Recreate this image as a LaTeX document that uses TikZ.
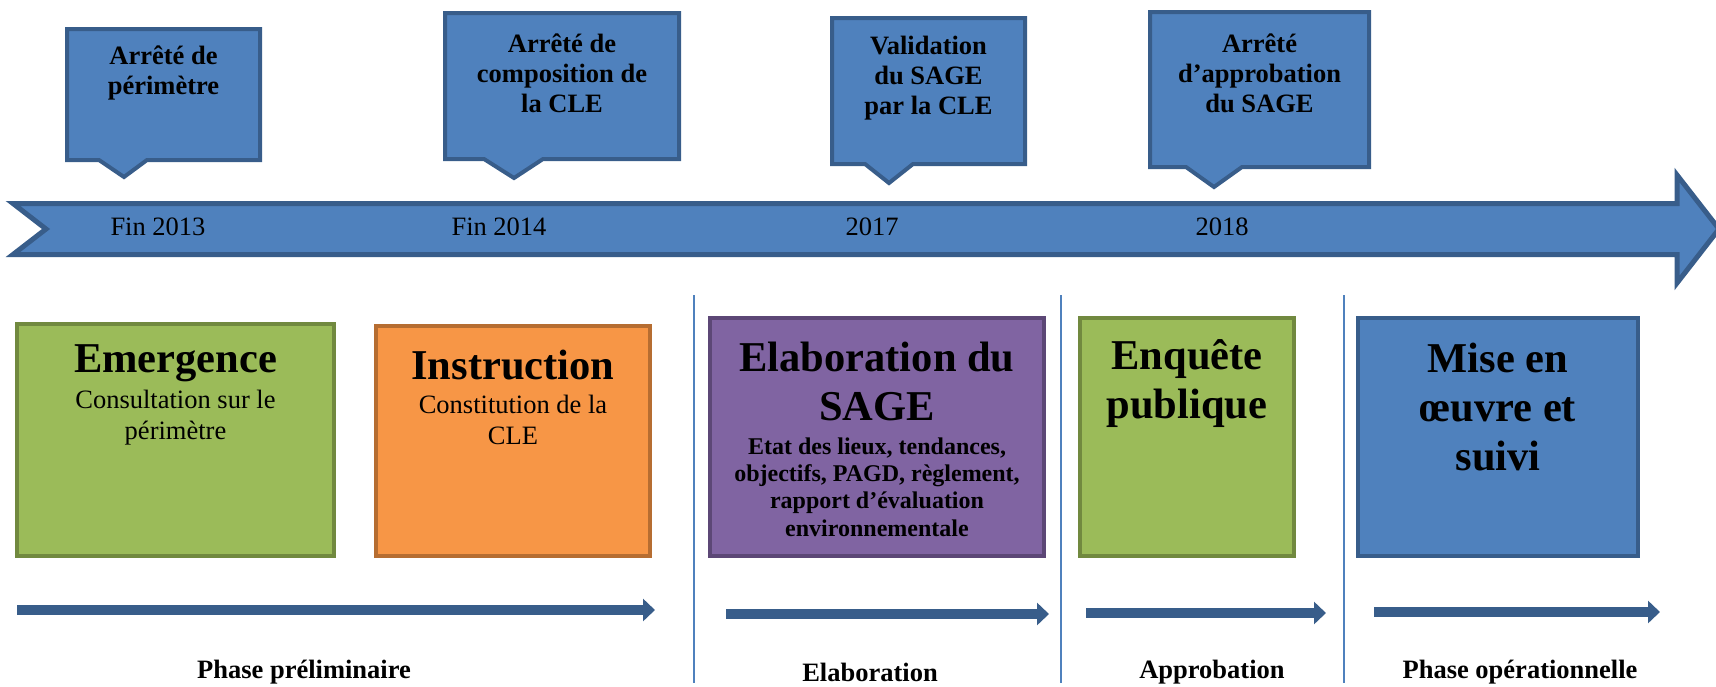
\documentclass[tikz,border=0pt]{standalone}
\usepackage{fontspec}
\setmainfont{Liberation Serif}
\usetikzlibrary{arrows.meta}
\definecolor{tlblue}{HTML}{4F81BD}
\definecolor{tldark}{HTML}{385D8A}
\definecolor{grfill}{HTML}{9BBB59}
\definecolor{grline}{HTML}{71893F}
\definecolor{orfill}{HTML}{F79646}
\definecolor{orline}{HTML}{B66D31}
\definecolor{pufill}{HTML}{8064A2}
\definecolor{puline}{HTML}{5C4776}
\newcommand{\fsz}[2]{\fontsize{#1}{#2}\selectfont}
\begin{document}
\begin{tikzpicture}[x=1pt,y=-1pt,
  callout/.style={fill=tlblue,draw=tldark,line width=4pt,line join=miter},
  ctext/.style={font=\bfseries\fsz{26.5}{30},align=center,inner sep=0pt},
  datetext/.style={font=\fsz{26.5}{30},inner sep=0pt},
  phasebox/.style={draw,line width=4pt,inner sep=0pt},
  boxtitle/.style={font=\bfseries\fsz{42.5}{49},align=center,inner sep=0pt},
  subreg/.style={font=\fsz{26.5}{31},align=center,inner sep=0pt},
  subbold/.style={font=\bfseries\fsz{24}{27.3},align=center,inner sep=0pt},
  phasearrow/.style={draw=tldark,line width=10pt,-{Triangle[length=12pt,width=22pt]}},
  divider/.style={draw=tlblue,line width=1.5pt},
  phaselabel/.style={font=\bfseries\fsz{26.5}{30},inner sep=0pt}
]
\useasboundingbox (0,0) rectangle (1716,686);
% timeline arrow
\draw[fill=tlblue,draw=tldark,line width=5pt,line join=miter]
  (13,203.5) -- (1677,203.5) -- (1677,175) -- (1719,229) -- (1677,283) -- (1677,254.5) -- (13,254.5) -- (46,229) -- cycle;
\node[datetext] (d1) at (158,227) {Fin 2013};
\node[datetext] (d2) at (499,227) {Fin 2014};
\node[datetext] (d3) at (872,227) {2017};
\node[datetext] (d4) at (1222,227) {2018};
% callouts
\draw[callout] (67,29) -- (260,29) -- (260,160) -- (147,160) -- (124,177) -- (99,160) -- (67,160) -- cycle;
\node[ctext] (c1) at (163.5,73) {Arrêté de\\périmètre};
\draw[callout] (445,13) -- (679,13) -- (679,159) -- (543,159) -- (514,178) -- (484,159) -- (445,159) -- cycle;
\node[ctext] (c2) at (562,73) {Arrêté de\\composition de\\la CLE};
\draw[callout] (832,18) -- (1025,18) -- (1025,164) -- (913,164) -- (889,183) -- (865,164) -- (832,164) -- cycle;
\node[ctext] (c3) at (928.5,78) {Validation\\du SAGE\\par la CLE};
\draw[callout] (1150,12) -- (1369,12) -- (1369,167) -- (1242,167) -- (1214,187) -- (1186,167) -- (1150,167) -- cycle;
\node[ctext] (c4) at (1259.5,73) {Arrêté\\d’approbation\\du SAGE};
% dividers
\draw[divider] (694,295) -- (694,683);
\draw[divider] (1061,295) -- (1061,683);
\draw[divider] (1344,295) -- (1344,683);
% phase boxes
\node[phasebox,fill=grfill,draw=grline,minimum width=317pt,minimum height=232pt] (bem) at (175.5,440) {};
\node[phasebox,fill=orfill,draw=orline,minimum width=274pt,minimum height=230pt] (bin) at (513,441) {};
\node[phasebox,fill=pufill,draw=puline,minimum width=334pt,minimum height=238pt] (bel) at (877,437) {};
\node[phasebox,fill=grfill,draw=grline,minimum width=214pt,minimum height=238pt] (ben) at (1187,437) {};
\node[phasebox,fill=tlblue,draw=tldark,minimum width=280pt,minimum height=238pt] (bmi) at (1498,437) {};
\node[boxtitle] (emt) at (175.5,363) {Emergence};
\node[subreg] (ems) at (175.5,417.5) {Consultation sur le\\périmètre};
\node[boxtitle] (int) at (513,365) {Instruction};
\node[subreg] (ins) at (513,419.5) {Constitution de la\\CLE};
\node[boxtitle] (elt) at (877,381.5) {Elaboration du\\SAGE};
\node[subbold] (els) at (877,487) {Etat des lieux, tendances,\\objectifs, PAGD, règlement,\\rapport d’évaluation\\environnementale};
\node[boxtitle] (ent) at (1187,384) {Enquête\\publique};
\node[boxtitle] (mit) at (1498,407) {Mise en\\œuvre et\\suivi};
% phase arrows
\coordinate (a1s) at (17,610); \coordinate (a1e) at (655,610);
\coordinate (a2s) at (726,614); \coordinate (a2e) at (1049,614);
\coordinate (a3s) at (1086,613); \coordinate (a3e) at (1326,613);
\coordinate (a4s) at (1374,612); \coordinate (a4e) at (1660,612);
\draw[phasearrow] (a1s) -- (a1e);
\draw[phasearrow] (a2s) -- (a2e);
\draw[phasearrow] (a3s) -- (a3e);
\draw[phasearrow] (a4s) -- (a4e);
% phase labels
\node[phaselabel] (l1) at (304,672) {Phase préliminaire};
\node[phaselabel] (l2) at (870,672) {Elaboration};
\node[phaselabel] (l3) at (1212,672) {Approbation};
\node[phaselabel] (l4) at (1520,672) {Phase opérationnelle};
\end{tikzpicture}
\end{document}
